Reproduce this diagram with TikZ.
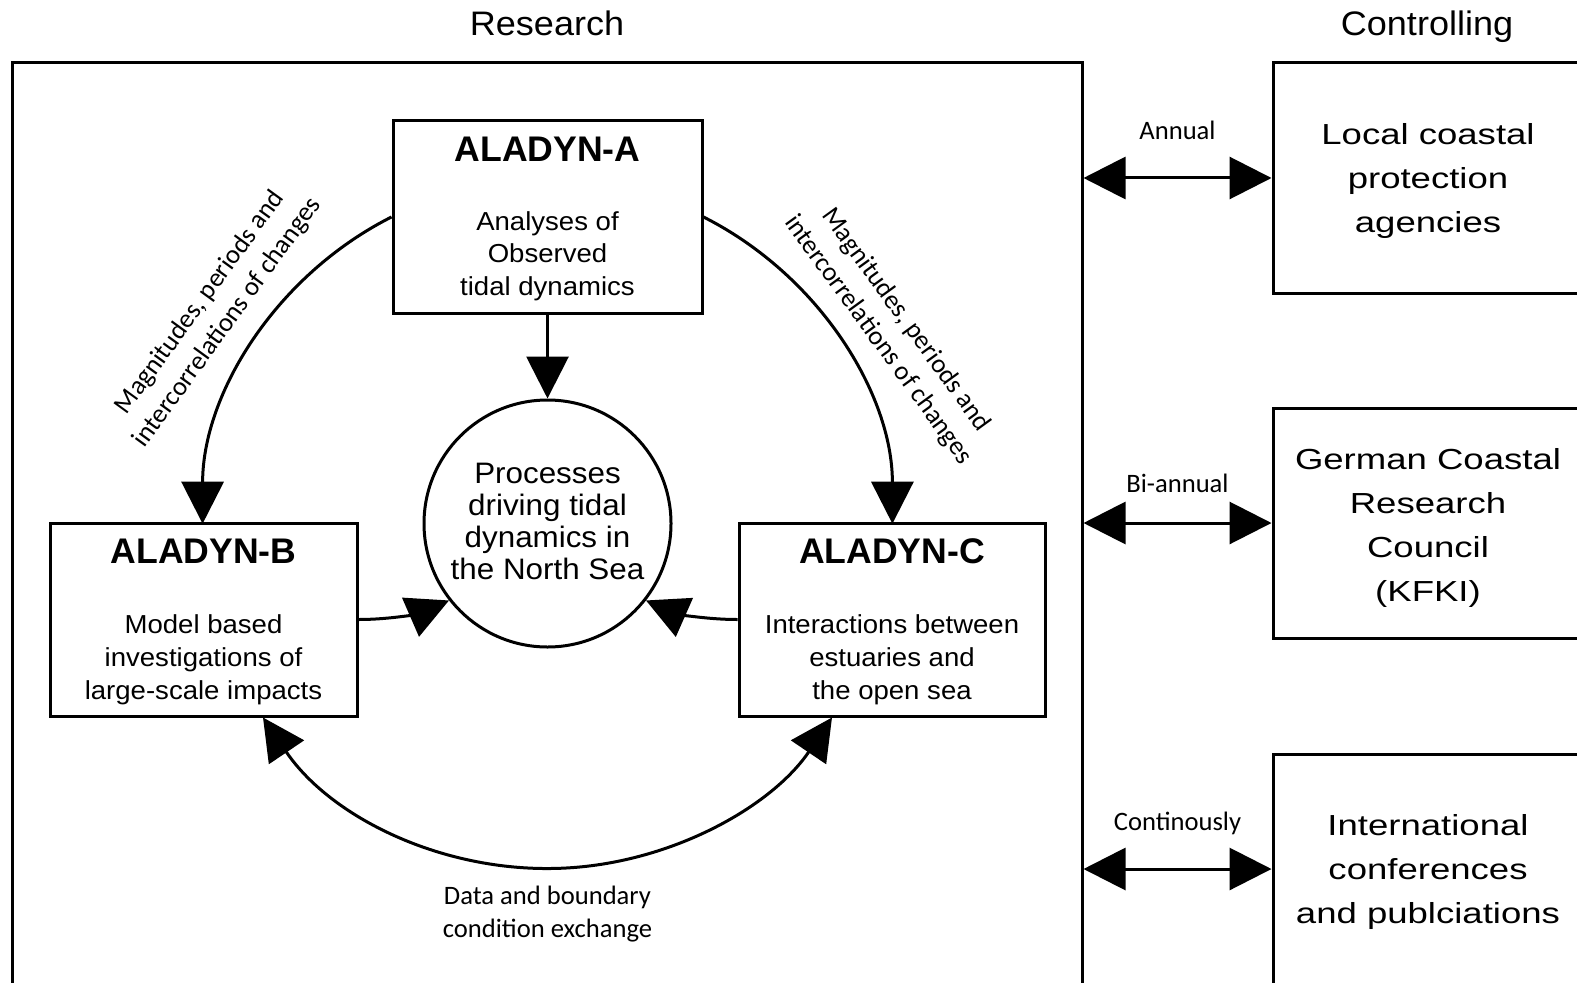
\documentclass[tikz,border=0pt]{standalone}
\usepackage{fontspec}
\setmainfont{Liberation Sans}
\newfontfamily\arialh[FakeStretch=1.06]{Liberation Sans}
\newfontfamily\arialw[FakeStretch=1.26]{Liberation Sans}
\newfontfamily\calib{Carlito}
\usetikzlibrary{arrows.meta,calc}
\begin{document}
\begin{tikzpicture}[x=0.5pt,y=0.5pt,line width=1.5pt,
  >={Triangle[length=21pt,width=21pt]},
  box/.style={draw,inner sep=0pt,rectangle},
  heading/.style={anchor=base,inner sep=0pt,font=\arialh\fontsize{17}{20}\selectfont},
  ttl/.style={anchor=base,inner sep=0pt,font=\bfseries\fontsize{17.8}{22}\selectfont},
  bodytxt/.style={anchor=base,inner sep=0pt,font=\arialh\fontsize{13}{16}\selectfont},
  circtxt/.style={anchor=base,inner sep=0pt,font=\arialh\fontsize{14.8}{18}\selectfont},
  ctrltxt/.style={anchor=base,inner sep=0pt,font=\arialw\fontsize{14.5}{18}\selectfont},
  lbl/.style={anchor=base,inner sep=0pt,font=\calib\fontsize{13.3}{16}\selectfont},
  rotlbl/.style={inner sep=0pt,align=center,font=\calib\fontsize{13.3}{17}\selectfont},
]
\useasboundingbox (0,0) rectangle (1577,982);

% headings
\node[heading] (hR) at (547,946) {Research};
\node[heading] (hC) at (1427,946) {Controlling};

% research frame
\node[box,minimum width=535pt,minimum height=461.5pt] (R) at (547,457.5) {};

% controlling boxes
\node[box,minimum width=155pt,minimum height=115pt] (T1) at (1428,804) {};
\node[box,minimum width=155pt,minimum height=115pt] (T2) at (1428,459) {};
\node[box,minimum width=155pt,minimum height=115pt] (T3) at (1428,113) {};

\node[ctrltxt] (t1a) at (1428,837) {Local coastal};
\node[ctrltxt] (t1b) at (1428,793) {protection};
\node[ctrltxt] (t1c) at (1428,749) {agencies};

\node[ctrltxt] (t2a) at (1428,513) {German Coastal};
\node[ctrltxt] (t2b) at (1428,469) {Research};
\node[ctrltxt] (t2c) at (1428,425) {Council};
\node[ctrltxt] (t2d) at (1428,381) {(KFKI)};

\node[ctrltxt] (t3a) at (1428,147) {International};
\node[ctrltxt] (t3b) at (1428,103) {conferences};
\node[ctrltxt] (t3c) at (1428,59) {and publciations};

% exchange arrows
\draw[<->] (R.east |- T1.west) -- (T1.west);
\draw[<->] (R.east |- T2.west) -- (T2.west);
\draw[<->] (R.east |- T3.west) -- (T3.west);
\node[lbl] (l1) at (1177.5,842) {Annual};
\node[lbl] (l2) at (1177.5,490) {Bi-annual};
\node[lbl] (l3) at (1177.5,152) {Continously};

% ALADYN-A
\node[box,minimum width=154.5pt,minimum height=96pt] (A) at (547.5,765) {};
\node[ttl] (At) at (547.5,820) {ALADYN-A};
\node[bodytxt] (Aa) at (547.5,752) {Analyses of};
\node[bodytxt] (Ab) at (547.5,719.5) {Observed};
\node[bodytxt] (Ac) at (547.5,687) {tidal dynamics};

% ALADYN-B
\node[box,minimum width=153.5pt,minimum height=96.5pt] (B) at (203.5,362.5) {};
\node[ttl] (Bt) at (203.5,419) {ALADYN-B};
\node[bodytxt] (Ba) at (203.5,349) {Model based};
\node[bodytxt] (Bb) at (203.5,316) {investigations of};
\node[bodytxt] (Bc) at (203.5,283) {large-scale impacts};

% ALADYN-C
\node[box,minimum width=153pt,minimum height=96.5pt] (C) at (892,362.5) {};
\node[ttl] (Ct) at (892,419) {ALADYN-C};
\node[bodytxt] (Ca) at (892,349) {Interactions between};
\node[bodytxt] (Cb) at (892,316) {estuaries and};
\node[bodytxt] (Cc) at (892,283) {the open sea};

% central circle
\node[draw,circle,minimum size=123.5pt,inner sep=0pt] (O) at (547.5,458.5) {};
\node[circtxt] (Oa) at (547.5,499) {Processes};
\node[circtxt] (Ob) at (547.5,467) {driving tidal};
\node[circtxt] (Oc) at (547.5,435) {dynamics in};
\node[circtxt] (Od) at (547.5,402.5) {the North Sea};

% connectors
\draw[->] (A.south) -- (O.north);
\draw[->] (A.west) arc[start angle=116.75,end angle=180,radius=171.75pt];
\draw[->] (A.east) arc[start angle=63.25,end angle=0,radius=171.75pt];
\coordinate (bs) at ($(B.south)+(59.5,0)$);
\draw[<->] (bs) arc[start angle=214.08,end angle=325.92,radius=171.75pt];
\draw[->] (B.east) .. controls (395,362.5) and (422,369.8) .. (O.218);
\draw[->] (C.west) .. controls (701,362.5) and (672.6,369.8) .. (O.322);

% labels
\node[rotlbl,rotate=54] (m1) at (214,669.5) {Magnitudes, periods and\\intercorrelations of changes};
\node[rotlbl,rotate=-54] (m2) at (892,652) {Magnitudes, periods and\\intercorrelations of changes};
\node[lbl] (d1) at (547.5,78) {Data and boundary};
\node[lbl] (d2) at (547.5,45) {condition exchange};
\end{tikzpicture}
\end{document}
